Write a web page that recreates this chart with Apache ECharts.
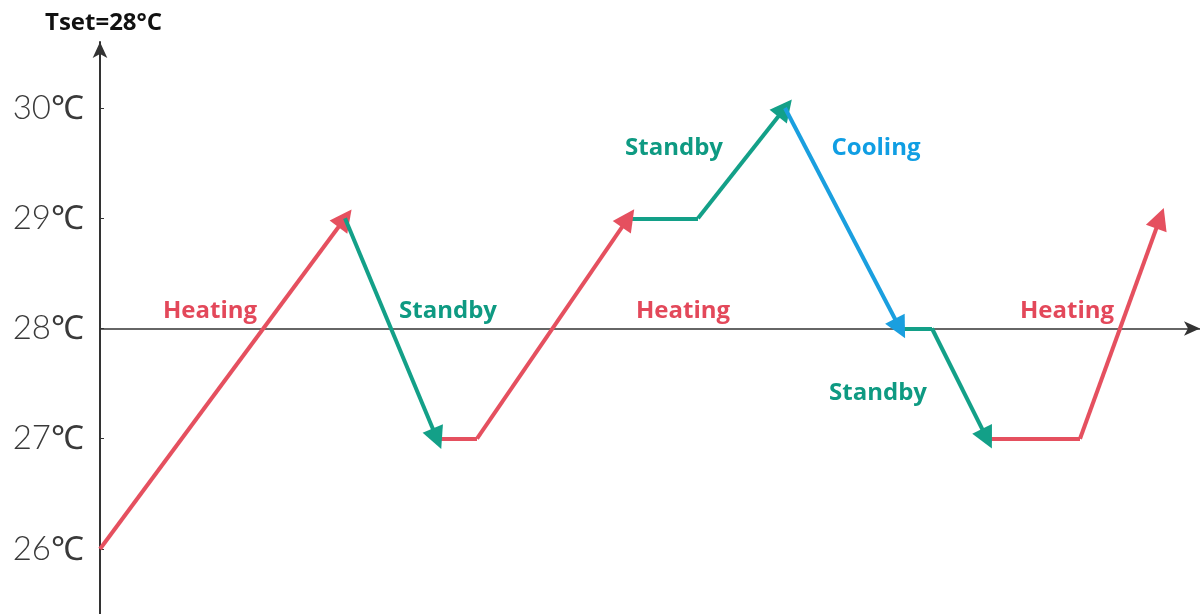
<!DOCTYPE html>
<html><head><meta charset="utf-8">
<script src="https://cdn.jsdelivr.net/npm/echarts@6/dist/echarts.min.js"></script>
<style>html,body{margin:0;padding:0;background:#fff}#c{width:1201px;height:614px}</style>
</head><body><div id="c"></div>
<script>
// Path vertices (time units, temperature °C)
const times = [0, 24.5, 33.7, 37.7, 52.8, 59.8, 68.5, 80, 83.2, 88.7, 98, 106];
const temps = [26, 29, 27, 27, 29, 29, 30, 28, 28, 27, 27, 29];
// Segments: mode, start vertex index, end vertex index
const segModes = ['Heating', 'Standby', 'Heating', 'Standby', 'Cooling', 'Standby', 'Heating'];
const segStart = [0, 1, 2, 4, 6, 7, 9];
const segEnd   = [1, 2, 4, 6, 7, 9, 11];
// Mode labels
const labelText = ['Heating', 'Standby', 'Heating', 'Standby', 'Cooling', 'Standby', 'Heating'];
const labelT    = [11, 34.8, 58.3, 57.4, 77.6, 77.8, 96.7];
const labelY    = [28.16, 28.16, 28.16, 29.64, 29.64, 27.41, 28.16];
// Axis ticks
const yTicks = [26, 27, 28, 29, 30];
const tset = 28;

const modeColor = {Heating: '#e5505f', Standby: '#13a088', Cooling: '#1a9fdf'};
const textColor = {Heating: '#e3485a', Standby: '#0e9a82', Cooling: '#109ee3'};

const plainData = [], arrowData = [];
segModes.forEach((m, i) => {
  for (let k = segStart[i]; k < segEnd[i]; k++) {
    const item = {coords: [[times[k], temps[k]], [times[k + 1], temps[k + 1]]],
      lineStyle: {color: modeColor[m]}};
    (k === segEnd[i] - 1 ? arrowData : plainData).push(item);
  }
});

const chart = echarts.init(document.getElementById('c'));
chart.setOption({
  backgroundColor: '#ffffff',
  animation: false,
  title: {text: 'Tset=28°C', left: 40, top: 6,
    textStyle: {fontFamily: 'Open Sans', fontWeight: 'bold', fontSize: 24, color: '#111'}},
  grid: {left: 100, right: 1, top: 42, bottom: 0},
  xAxis: {type: 'value', min: 0, max: 110, show: false},
  yAxis: {type: 'value', min: 25.41, max: 30.599,
    axisLine: {show: true, symbol: ['none', 'arrow'], symbolSize: [11, 16],
      lineStyle: {color: '#333', width: 2}},
    axisTick: {show: true, inside: true, length: 4, customValues: yTicks,
      lineStyle: {color: '#333', width: 1}},
    splitLine: {show: false},
    axisLabel: {customValues: yTicks, formatter: v => v + '℃', margin: 16,
      fontFamily: 'Lato', fontWeight: 300, fontSize: 33, color: '#3a3a3a'}},
  series: [
    {type: 'line', data: [], markLine: {silent: true, symbol: ['none', 'arrow'], symbolSize: [11, 16],
      label: {show: false},
      lineStyle: {color: '#333', width: 1.5, type: 'solid'},
      data: [{yAxis: tset}]}},
    {type: 'lines', coordinateSystem: 'cartesian2d', z: 5,
      symbol: ['none', 'none'],
      lineStyle: {width: 4, opacity: 1},
      data: plainData},
    {type: 'lines', coordinateSystem: 'cartesian2d', z: 5,
      symbol: ['none', 'triangle'], symbolSize: [18, 22], symbolOffset: [0, 11],
      lineStyle: {width: 4, opacity: 1},
      data: arrowData},
    {type: 'scatter', symbolSize: 0, z: 6, silent: true,
      data: labelText.map((t, i) => ({value: [labelT[i], labelY[i]], name: t,
        label: {color: textColor[t], opacity: 1}})),
      label: {show: true, position: 'inside', formatter: p => p.name,
        fontFamily: 'Open Sans', fontWeight: 700, fontSize: 24}}
  ]
});
</script></body></html>
